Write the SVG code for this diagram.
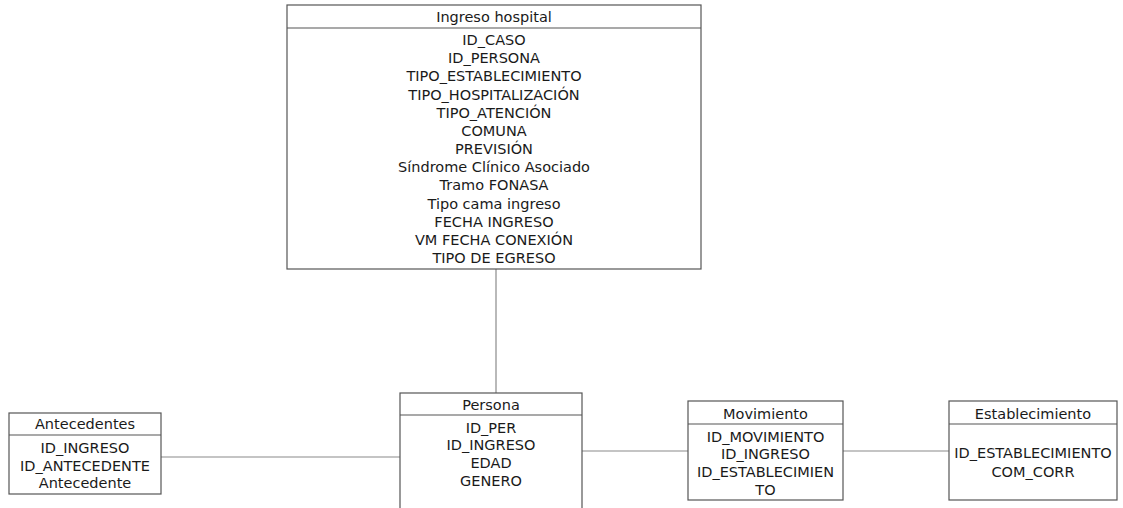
<svg xmlns="http://www.w3.org/2000/svg" width="1123" height="508" viewBox="0 0 1123 508">
<style>
.box{fill:#fff;stroke:#555;stroke-width:1.2}
.div{stroke:#555;stroke-width:1.2}
.con{stroke:#8a8a8a;stroke-width:1.2;fill:none}
text{font-family:"DejaVu Sans",Verdana,sans-serif;font-size:14.5px;fill:#1a1a1a;text-anchor:middle;dominant-baseline:central}
</style>
<rect width="1123" height="508" fill="#fff"/>
<g id="connectors">
<line class="con" x1="496" y1="269" x2="496" y2="393"/>
<line class="con" x1="161" y1="457" x2="400" y2="457"/>
<line class="con" x1="582" y1="451" x2="688" y2="451"/>
<line class="con" x1="843" y1="451" x2="949" y2="451"/>
</g>
<g id="ingreso-hospital">
<rect class="box" x="287" y="5" width="414" height="264"/>
<line class="div" x1="287" y1="28" x2="701" y2="28"/>
<text x="494" y="17">Ingreso hospital</text>
<text x="494" y="40">ID_CASO</text>
<text x="494" y="58">ID_PERSONA</text>
<text x="494" y="76">TIPO_ESTABLECIMIENTO</text>
<text x="494" y="94.5">TIPO_HOSPITALIZACIÓN</text>
<text x="494" y="112.5">TIPO_ATENCIÓN</text>
<text x="494" y="131">COMUNA</text>
<text x="494" y="149">PREVISIÓN</text>
<text x="494" y="167">Síndrome Clínico Asociado</text>
<text x="494" y="185">Tramo FONASA</text>
<text x="494" y="203.5">Tipo cama ingreso</text>
<text x="494" y="221.5">FECHA INGRESO</text>
<text x="494" y="240">VM FECHA CONEXIÓN</text>
<text x="494" y="258">TIPO DE EGRESO</text>
</g>
<g id="antecedentes">
<rect class="box" x="9" y="413" width="152" height="81"/>
<line class="div" x1="9" y1="435" x2="161" y2="435"/>
<text x="85" y="424">Antecedentes</text>
<text x="85" y="448">ID_INGRESO</text>
<text x="85" y="466">ID_ANTECEDENTE</text>
<text x="85" y="483">Antecedente</text>
</g>
<g id="persona">
<rect class="box" x="400" y="393" width="182" height="125"/>
<line class="div" x1="400" y1="415" x2="582" y2="415"/>
<text x="491" y="405">Persona</text>
<text x="491" y="428">ID_PER</text>
<text x="491" y="445">ID_INGRESO</text>
<text x="491" y="463">EDAD</text>
<text x="491" y="481">GENERO</text>
</g>
<g id="movimiento">
<rect class="box" x="688" y="401" width="155" height="99"/>
<line class="div" x1="688" y1="424" x2="843" y2="424"/>
<text x="765.5" y="414">Movimiento</text>
<text x="765.5" y="437">ID_MOVIMIENTO</text>
<text x="765.5" y="454">ID_INGRESO</text>
<text x="765.5" y="472">ID_ESTABLECIMIEN</text>
<text x="765.5" y="490">TO</text>
</g>
<g id="establecimiento">
<rect class="box" x="949" y="401" width="168" height="99"/>
<line class="div" x1="949" y1="424" x2="1117" y2="424"/>
<text x="1033" y="414">Establecimiento</text>
<text x="1033" y="453">ID_ESTABLECIMIENTO</text>
<text x="1033" y="472">COM_CORR</text>
</g>
</svg>
